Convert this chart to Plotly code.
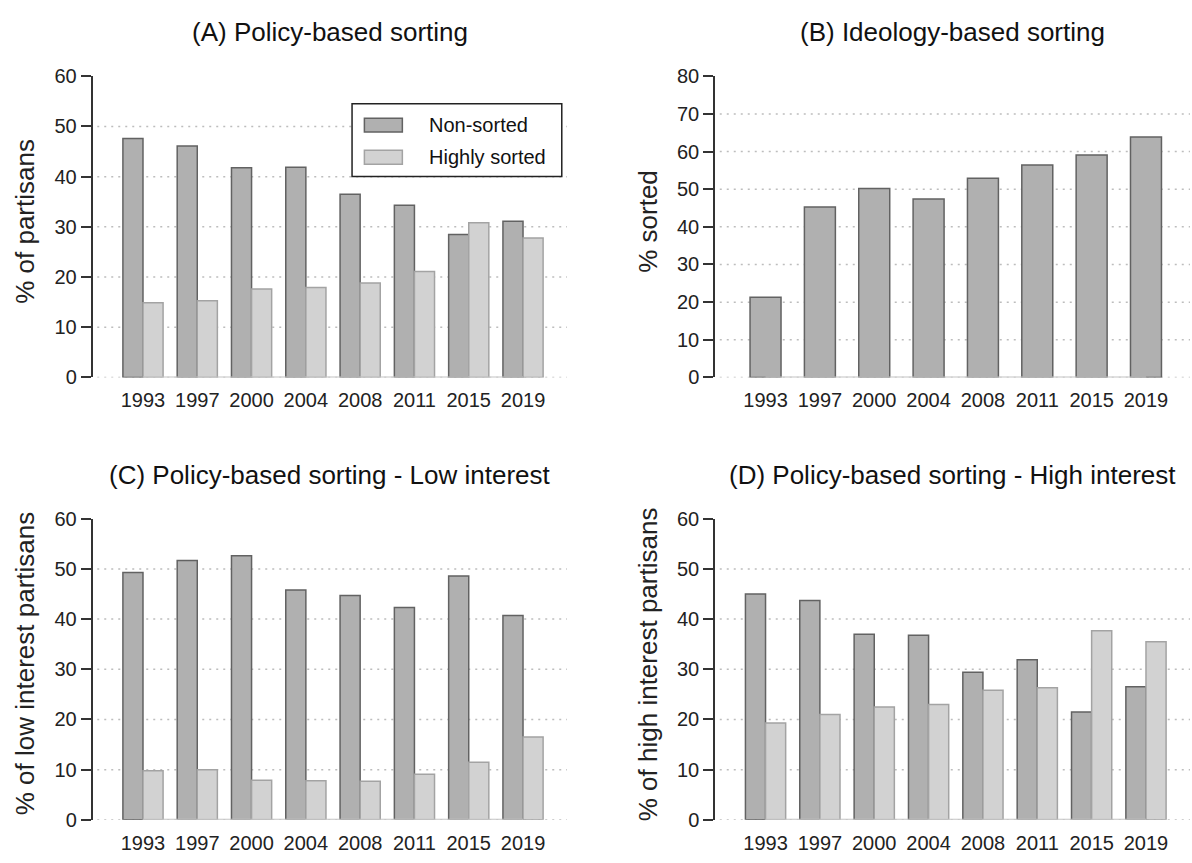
import plotly.graph_objects as go

# Survey years shared by every panel
years = ["1993", "1997", "2000", "2004", "2008", "2011", "2015", "2019"]

# (A) Policy-based sorting, % of partisans
a_non_sorted = [47.6, 46.1, 41.8, 41.9, 36.5, 34.3, 28.5, 31.1]
a_highly_sorted = [14.9, 15.3, 17.6, 17.9, 18.8, 21.1, 30.8, 27.8]

# (B) Ideology-based sorting, % sorted
b_sorted = [21.3, 45.3, 50.2, 47.4, 52.9, 56.4, 59.1, 63.9]

# (C) Policy-based sorting - low interest partisans
c_non_sorted = [49.3, 51.7, 52.6, 45.8, 44.7, 42.3, 48.6, 40.7]
c_highly_sorted = [9.8, 10.0, 7.9, 7.8, 7.7, 9.1, 11.5, 16.5]

# (D) Policy-based sorting - high interest partisans
d_non_sorted = [45.0, 43.7, 37.0, 36.8, 29.4, 31.9, 21.5, 26.5]
d_highly_sorted = [19.3, 21.0, 22.5, 23.0, 25.8, 26.3, 37.7, 35.5]

y_ticks_60 = [0, 10, 20, 30, 40, 50, 60]
y_ticks_80 = [0, 10, 20, 30, 40, 50, 60, 70, 80]

FONT = "Arial, Liberation Sans, sans-serif"
DARK_FILL, DARK_LINE = "#b0b0b0", "#626262"
LIGHT_FILL, LIGHT_LINE = "#d2d2d2", "#a3a3a3"
GRID = "#bdbdbd"
W, H = 1192, 863

xs = list(range(len(years)))
PAIR_W = 0.37
SINGLE_W = 0.57

fig = go.Figure()

# panel geometry in pixels: (left, right, top, bottom)
panels = {
    "A": dict(px=(92.5, 567), py=(67, 376), ax="", ymax=60, ticks=y_ticks_60),
    "B": dict(px=(715, 1190), py=(67, 376), ax="2", ymax=80, ticks=y_ticks_80),
    "C": dict(px=(92.5, 567), py=(521, 830), ax="3", ymax=60, ticks=y_ticks_60),
    "D": dict(px=(715, 1190), py=(521, 830), ax="4", ymax=60, ticks=y_ticks_60),
}

titles = {
    "A": "(A) Policy-based sorting",
    "B": "(B) Ideology-based sorting",
    "C": "(C) Policy-based sorting - Low interest",
    "D": "(D) Policy-based sorting - High interest",
}
ytitles = {
    "A": "% of partisans",
    "B": "% sorted",
    "C": "% of low interest partisans",
    "D": "% of high interest partisans",
}


def add_pair(non_sorted, highly_sorted, ax):
    fig.add_trace(go.Bar(
        x=xs, y=non_sorted, width=PAIR_W, offset=-PAIR_W, name="Non-sorted",
        marker=dict(color=DARK_FILL, line=dict(color=DARK_LINE, width=1.5)),
        xaxis="x" + ax, yaxis="y" + ax, showlegend=False))
    fig.add_trace(go.Bar(
        x=xs, y=highly_sorted, width=PAIR_W, offset=0, name="Highly sorted",
        marker=dict(color=LIGHT_FILL, line=dict(color=LIGHT_LINE, width=1.5)),
        xaxis="x" + ax, yaxis="y" + ax, showlegend=False))


add_pair(a_non_sorted, a_highly_sorted, "")
fig.add_trace(go.Bar(
    x=xs, y=b_sorted, width=SINGLE_W, name="Sorted",
    marker=dict(color=DARK_FILL, line=dict(color=DARK_LINE, width=1.5)),
    xaxis="x2", yaxis="y2", showlegend=False))
add_pair(c_non_sorted, c_highly_sorted, "3")
add_pair(d_non_sorted, d_highly_sorted, "4")

layout = dict(
    width=W, height=H,
    margin=dict(l=0, r=0, t=0, b=0),
    paper_bgcolor="white", plot_bgcolor="white",
    barmode="overlay",
    font=dict(family=FONT, color="#222222", size=20),
    showlegend=False,
)

annotations = []
shapes = []
for key, p in panels.items():
    ax = p["ax"]
    x0, x1 = p["px"][0] / W, p["px"][1] / W
    y0, y1 = 1 - p["py"][1] / H, 1 - p["py"][0] / H
    layout["xaxis" + ax] = dict(
        domain=[x0, x1], anchor="y" + ax, range=[-0.93, 7.81],
        tickvals=xs, ticktext=years, showgrid=False, zeroline=False,
        showline=False, ticks="", ticklabelstandoff=9,
        tickfont=dict(size=20))
    layout["yaxis" + ax] = dict(
        domain=[y0, y1], anchor="x" + ax, range=[0, p["ymax"]],
        tickvals=p["ticks"], showgrid=False, zeroline=False,
        showline=True, linecolor="#333333", linewidth=1.5,
        ticks="outside", ticklen=10, tickcolor="#333333", tickwidth=1.5,
        tickfont=dict(size=20))
    xref = "x" + ax if ax else "x"
    yref = "y" + ax if ax else "y"
    # dotted horizontal grid below the top tick
    for v in p["ticks"][:-1]:
        shapes.append(dict(
            type="line", xref=xref + " domain", yref=yref, x0=0.01, x1=1,
            y0=v, y1=v, layer="below",
            line=dict(color=GRID, width=1.5, dash="2px,5px")))
    # baseline spanning the first to the last year
    shapes.append(dict(
        type="line", xref=xref, yref=yref, x0=xs[0], x1=xs[-1], y0=0, y1=0,
        layer="above", line=dict(color="#c4c4c4", width=2)))
    annotations.append(dict(
        text=titles[key], xref="paper", yref="paper",
        x=(x0 + x1) / 2, y=1 - (p["py"][0] - 45) / H,
        showarrow=False, xanchor="center", yanchor="middle",
        font=dict(size=26, color="#111111")))
    ytx = 25 if key in ("A", "C") else 648
    annotations.append(dict(
        text=ytitles[key], xref="paper", yref="paper",
        x=ytx / W, y=(y0 + y1) / 2 + 0.006, textangle=-90,
        showarrow=False, xanchor="center", yanchor="middle",
        font=dict(size=26, color="#222222")))

# legend box for panel A
shapes.append(dict(type="rect", xref="x domain", yref="y domain",
                   x0=0.547, x1=0.989, y0=0.667, y1=0.909,
                   line=dict(color="#222222", width=1.5), fillcolor="white",
                   layer="above"))
legend_items = [("Non-sorted", DARK_FILL, DARK_LINE, 0.838),
                ("Highly sorted", LIGHT_FILL, LIGHT_LINE, 0.731)]
for label, fill, line, yc in legend_items:
    shapes.append(dict(type="rect", xref="x domain", yref="y domain",
                       x0=0.573, x1=0.653, y0=yc - 0.023, y1=yc + 0.023,
                       line=dict(color=line, width=1.5), fillcolor=fill,
                       layer="above"))
    annotations.append(dict(text=label, xref="x domain", yref="y domain",
                            x=0.705, y=yc, xanchor="left", yanchor="middle",
                            showarrow=False, font=dict(size=20, color="#111111")))

layout["shapes"] = shapes
layout["annotations"] = annotations
fig.update_layout(**layout)

fig.write_html("out.html")
